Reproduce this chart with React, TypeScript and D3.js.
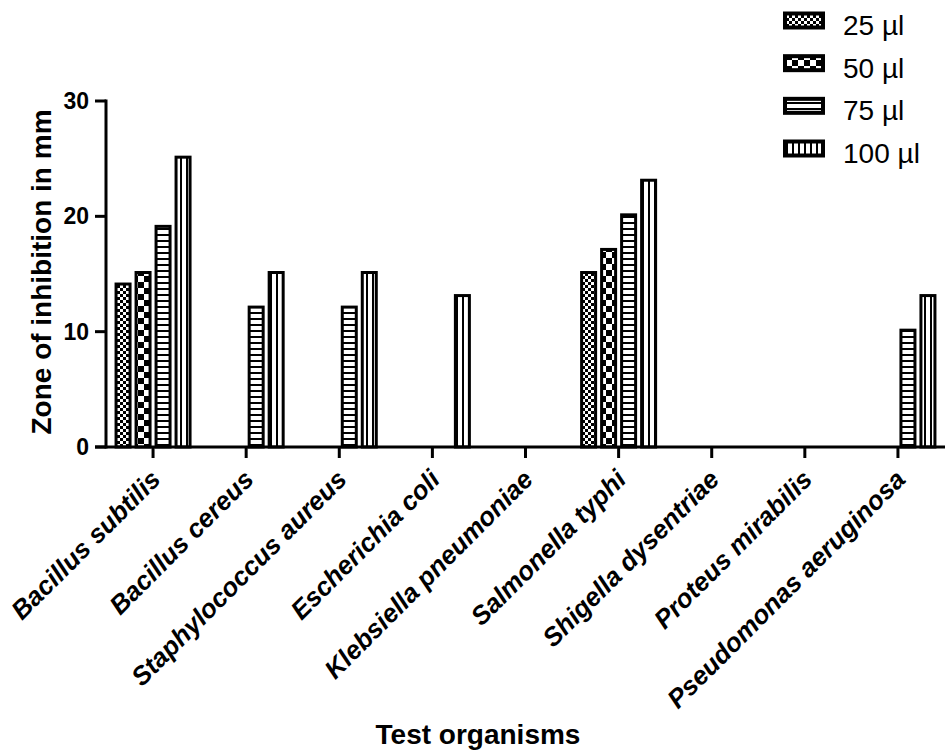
import React from "react";
import * as d3 from "d3";

// organisms on the x axis
const categories = [
  "Bacillus subtilis",
  "Bacillus cereus",
  "Staphylococcus aureus",
  "Escherichia coli",
  "Klebsiella pneumoniae",
  "Salmonella typhi",
  "Shigella dysentriae",
  "Proteus mirabilis",
  "Pseudomonas aeruginosa",
];

// zone of inhibition (mm) per dose
const series = ["25 µl", "50 µl", "75 µl", "100 µl"];
const vals25 = [14, 0, 0, 0, 0, 15, 0, 0, 0];
const vals50 = [15, 0, 0, 0, 0, 17, 0, 0, 0];
const vals75 = [19, 12, 12, 0, 0, 20, 0, 0, 10];
const vals100 = [25, 15, 15, 13, 0, 23, 0, 0, 13];
const yTicks = [0, 10, 20, 30];

const seriesValues = [vals25, vals50, vals75, vals100];
const patternIds = ["p25", "p50", "p75", "p100"];

const FONT = "'Liberation Sans', Arial, Helvetica, sans-serif";

export default function App() {
  const width = 948;
  const height = 751;

  const x0 = d3.scaleBand<string>().domain(categories).range([106.5, 944.5]);
  const groupW = 77;
  const x1 = d3
    .scaleBand<string>()
    .domain(series)
    .range([0, groupW])
    .paddingInner(0.15);
  const y = d3.scaleLinear().domain([0, 30]).range([447, 101]);

  const legendY = d3.scalePoint<string>().domain(series).range([35, 163]);

  const bars: { key: string; x: number; y: number; w: number; h: number; fill: string }[] = [];
  categories.forEach((c, ci) => {
    const gx = (x0(c) ?? 0) + x0.bandwidth() / 2 - groupW / 2;
    series.forEach((s, si) => {
      const v = seriesValues[si][ci];
      if (v <= 0) return;
      bars.push({
        key: c + s,
        x: gx + (x1(s) ?? 0) + 1.5,
        y: y(v) - 1.5,
        w: x1.bandwidth() - 3,
        h: y(0) - y(v) + 1.5,
        fill: `url(#${patternIds[si]})`,
      });
    });
  });

  return (
    <div style={{ position: "fixed", left: 0, top: 0 }}>
      <svg width={width} height={height} style={{ display: "block", background: "#fff" }}>
        <defs>
          <pattern id="p25" width={6} height={6} patternUnits="userSpaceOnUse">
            <rect width={6} height={6} fill="#fff" />
            <rect width={3} height={3} fill="#000" />
            <rect x={3} y={3} width={3} height={3} fill="#000" />
          </pattern>
          <pattern id="p50" width={12} height={12} patternUnits="userSpaceOnUse">
            <rect width={12} height={12} fill="#fff" />
            <rect width={6} height={6} fill="#000" />
            <rect x={6} y={6} width={6} height={6} fill="#000" />
          </pattern>
          <pattern id="p75" width={6} height={6} patternUnits="userSpaceOnUse">
            <rect width={6} height={6} fill="#fff" />
            <rect width={6} height={2} fill="#000" />
          </pattern>
          <pattern id="p100" width={6} height={6} patternUnits="userSpaceOnUse">
            <rect width={6} height={6} fill="#fff" />
            <rect width={2} height={6} fill="#000" />
          </pattern>
        </defs>

        {/* bars */}
        {bars.map((b) => (
          <rect
            key={b.key}
            x={b.x}
            y={b.y}
            width={b.w}
            height={b.h}
            fill={b.fill}
            stroke="#000"
            strokeWidth={3}
          />
        ))}

        {/* y axis */}
        <line x1={106} x2={106} y1={y(30) - 1.5} y2={y(0) + 1.5} stroke="#000" strokeWidth={3} />
        {yTicks.map((t) => (
          <g key={t} transform={`translate(0,${y(t)})`}>
            <line x1={95} x2={106} stroke="#000" strokeWidth={3} />
            <text
              x={89}
              dy="0.35em"
              textAnchor="end"
              fontFamily={FONT}
              fontWeight="bold"
              fontSize={23}
            >
              {t}
            </text>
          </g>
        ))}

        {/* x axis */}
        <line x1={95} x2={945} y1={y(0)} y2={y(0)} stroke="#000" strokeWidth={3} />
        {categories.map((c) => {
          const cx = (x0(c) ?? 0) + x0.bandwidth() / 2;
          return (
            <g key={c}>
              <line x1={cx} x2={cx} y1={y(0)} y2={y(0) + 11} stroke="#000" strokeWidth={3} />
              <text
                transform={`translate(${cx + 9},481) rotate(-45)`}
                textAnchor="end"
                fontFamily={FONT}
                fontWeight="bold"
                fontStyle="italic"
                fontSize={26}
              >
                {c}
              </text>
            </g>
          );
        })}

        {/* axis titles */}
        <text
          transform="translate(51,272) rotate(-90)"
          textAnchor="middle"
          fontFamily={FONT}
          fontWeight="bold"
          fontSize={28}
        >
          Zone of inhibition in mm
        </text>
        <text
          x={478}
          y={744}
          textAnchor="middle"
          fontFamily={FONT}
          fontWeight="bold"
          fontSize={28}
        >
          Test organisms
        </text>

        {/* legend */}
        {series.map((s, i) => {
          const by = legendY(s) ?? 0;
          return (
            <g key={s}>
              <rect
                x={785}
                y={by - 21.5}
                width={38}
                height={14}
                fill={`url(#${patternIds[i]})`}
                stroke="#000"
                strokeWidth={4}
              />
              <text x={843} y={by} fontFamily={FONT} fontSize={28}>
                {s}
              </text>
            </g>
          );
        })}
      </svg>
    </div>
  );
}
